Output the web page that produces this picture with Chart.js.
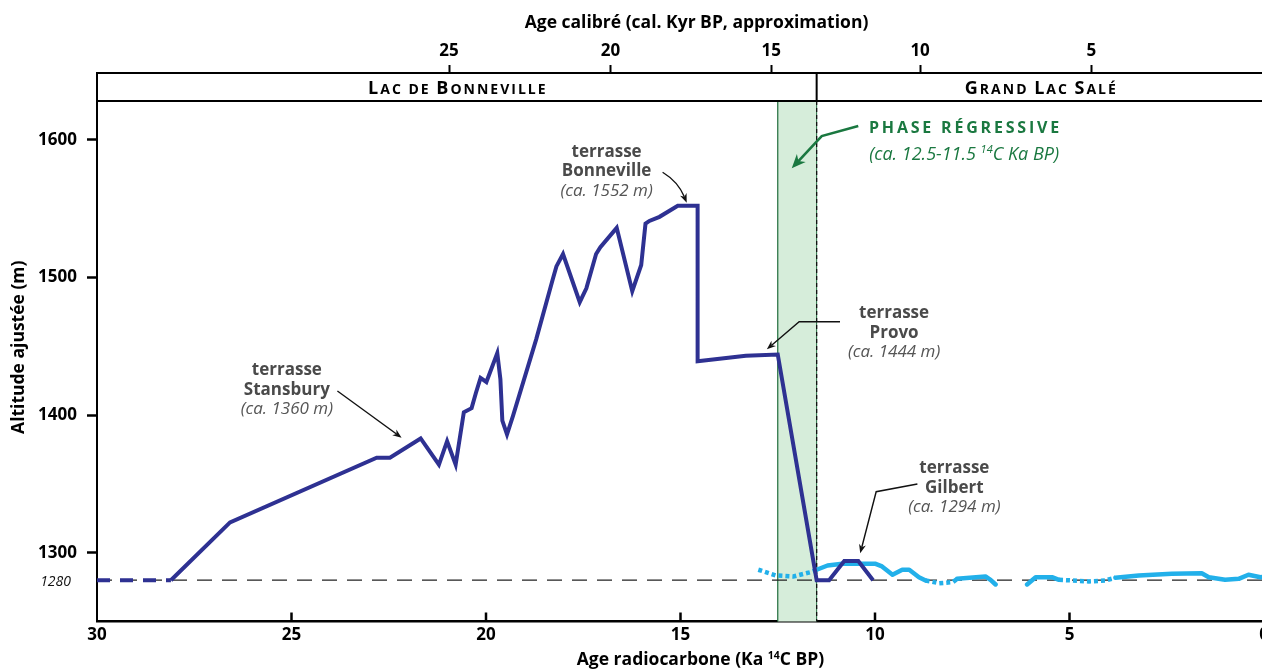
<!DOCTYPE html>
<html>
<head>
<meta charset="utf-8">
<script src="https://cdn.jsdelivr.net/npm/chart.js@4/dist/chart.umd.min.js"></script>
<style>
  html, body { margin: 0; padding: 0; background: #fff; overflow: hidden; }
  #wrap { position: relative; width: 1280px; height: 670px; }
</style>
</head>
<body>
<div id="wrap"><canvas id="chart"></canvas></div>
<script>
// ---- Axes ----
const radiocarbonTicks = [30, 25, 20, 15, 10, 5, 0];           // Ka 14C BP
const altitudeTicks = [1300, 1400, 1500, 1600];                 // m
const calibratedLabels = [25, 20, 15, 10, 5];                   // cal. Kyr BP
const calibratedAtRadiocarbon = [20.95, 16.8, 12.67, 8.84, 4.44];

// ---- Lake Bonneville / Gilbert hydrograph ----
const lakeAge = [28.1, 26.58, 22.81, 22.47, 21.68, 21.21, 21.0, 20.78, 20.57, 20.37, 20.26, 20.14,
  19.99, 19.71, 19.63, 19.58, 19.46, 19.31, 18.71, 18.28, 18.19, 18.02, 17.59, 17.42, 17.17, 17.06,
  16.64, 16.24, 16.01, 15.9, 15.8, 15.54, 15.07, 14.56, 14.56, 13.32, 12.5, 11.5, 11.18, 10.79, 10.43, 10.05];
const lakeAlt = [1280, 1322, 1369, 1369, 1383, 1364, 1381, 1364, 1402, 1405, 1416, 1427,
  1424, 1445, 1426, 1396, 1386, 1399, 1455, 1499, 1508, 1517, 1482, 1492, 1517, 1522,
  1536, 1490, 1509, 1539, 1541, 1544, 1552, 1552, 1439, 1443, 1444, 1280, 1280, 1294, 1294, 1280];

// Pre-lake low stand
const lowstandAge = [30, 28.1];
const lowstandAlt = [1280, 1280];

// ---- Great Salt Lake (solid = documented, dotted = inferred) ----
const saltLakeAge = [11.5, 11.22, 10.84, 10.0, 9.82, 9.55, 9.3, 9.12, 8.87, 8.7, null,
  7.89, 7.16, 7.03, 6.9, null,
  6.09, 5.87, 5.45, 5.27, null,
  3.82, 3.22, 2.37, 1.6, 1.42, 1.0, 0.65, 0.4, 0.09, 0];
const saltLakeAlt = [1287.6, 1290.7, 1292, 1292, 1290, 1284, 1287.6, 1287.6, 1282.2, 1279.8, null,
  1281, 1282.7, 1280.3, 1276.9, null,
  1276.9, 1282.2, 1282.2, 1280.3, null,
  1281.8, 1283.5, 1284.7, 1285.1, 1282.2, 1280.3, 1281, 1284, 1282.2, 1282.5];
const saltLakeInferredAge = [13.0, 12.55, 12.1, 11.65, 11.5, null, 8.7, 8.35, 8.0, 7.89, null, 5.27, 4.93, 4.5, 4.08, 3.82];
const saltLakeInferredAlt = [1287.6, 1283.5, 1282.7, 1285.9, 1287.6, null, 1279.8, 1277.8, 1278.6, 1281, null, 1280.3, 1279.8, 1279.1, 1279.8, 1281.8];

// Reference level and regressive phase
const datumAltitude = 1280;
const regressionPhase = [12.5, 11.5];

// ---- Styling ----
const FONT = "'Open Sans', 'Noto Sans', sans-serif";
const NAVY = '#2e3192';
const CYAN = '#22b0ea';
const GREEN = '#1a7840';
const GREY = '#4a4a4a';
const HEADER_H = 28;

// Terrace call-outs (positions in axis units)
const terraces = [
  { title: 'Stansbury', note: '(ca. 1360 m)', at: [25.12, 1429], arrow: [[23.82, 1417.5], [22.17, 1383.5]] },
  { title: 'Bonneville', note: '(ca. 1552 m)', at: [16.9, 1587.7], arrow: [[15.46, 1576.4], [15.06, 1569.5], [14.84, 1554.3]], curved: true },
  { title: 'Provo', note: '(ca. 1444 m)', at: [9.51, 1470.3], arrow: [[10.9, 1467.8], [11.95, 1467.8], [12.78, 1447.8]] },
  { title: 'Gilbert', note: '(ca. 1294 m)', at: [7.96, 1357.7], arrow: [[8.91, 1349.9], [9.97, 1344.3], [10.38, 1299.5]] }
];
const phaseNote = { at: [7.71, 1604.7], arrow: [[10.43, 1610.0], [11.37, 1602.7], [12.14, 1579.3]] };

const toPoints = (xs, ys) => xs.map((v, i) => ({ x: v, y: ys[i] }));

function strokeLine(ctx, x1, y1, x2, y2) {
  ctx.beginPath(); ctx.moveTo(x1, y1); ctx.lineTo(x2, y2); ctx.stroke();
}

// Text runs drawn centred on cx, optional letter spacing and vertical shift
function drawRuns(ctx, runs, cx, baseline, color) {
  ctx.fillStyle = color;
  ctx.textAlign = 'left';
  ctx.textBaseline = 'alphabetic';
  let total = 0;
  runs.forEach(r => {
    ctx.font = r.font;
    const sp = r.spacing || 0;
    r.chars = [...r.text].map(ch => ({ ch, w: ctx.measureText(ch).width + sp }));
    r.w = sp ? r.chars.reduce((s, c) => s + c.w, 0) : ctx.measureText(r.text).width;
    total += r.w;
  });
  if (runs.length && runs[runs.length - 1].spacing) total -= runs[runs.length - 1].spacing;
  let x = cx - total / 2;
  runs.forEach(r => {
    ctx.font = r.font;
    if (r.spacing) {
      r.chars.forEach(c => { ctx.fillText(c.ch, x, baseline + (r.dy || 0)); x += c.w; });
    } else {
      ctx.fillText(r.text, x, baseline + (r.dy || 0));
      x += r.w;
    }
  });
}

// Small capitals: upper-case letters large, lower-case letters as reduced capitals
function smallCapsRuns(text, big, small, spacing) {
  return [...text].map(ch => {
    const isUpper = ch !== ch.toLowerCase();
    const size = isUpper ? big : small;
    return { text: ch.toUpperCase(), font: `bold ${size}px ${FONT}`, spacing };
  });
}

function drawArrow(ctx, pts, color, width, headLen, headW, curved) {
  const n = pts.length;
  const [xa, ya] = pts[n - 2];
  const [xb, yb] = pts[n - 1];
  const ang = Math.atan2(yb - ya, xb - xa);
  const cos = Math.cos(ang), sin = Math.sin(ang);
  const endX = xb - headLen * 0.7 * cos, endY = yb - headLen * 0.7 * sin;
  ctx.strokeStyle = color;
  ctx.lineWidth = width;
  ctx.lineJoin = 'miter';
  ctx.beginPath();
  ctx.moveTo(pts[0][0], pts[0][1]);
  if (curved && n === 3) {
    ctx.quadraticCurveTo(pts[1][0], pts[1][1], endX, endY);
  } else {
    for (let i = 1; i < n - 1; i++) ctx.lineTo(pts[i][0], pts[i][1]);
    ctx.lineTo(endX, endY);
  }
  ctx.stroke();
  const bx = xb - headLen * cos, by = yb - headLen * sin;
  const ix = xb - headLen * 0.7 * cos, iy = yb - headLen * 0.7 * sin;
  ctx.fillStyle = color;
  ctx.beginPath();
  ctx.moveTo(xb, yb);
  ctx.lineTo(bx + (headW / 2) * sin, by - (headW / 2) * cos);
  ctx.lineTo(ix, iy);
  ctx.lineTo(bx - (headW / 2) * sin, by + (headW / 2) * cos);
  ctx.closePath();
  ctx.fill();
}

const decorations = {
  id: 'decorations',
  beforeDatasetsDraw(chart) {
    const { ctx, chartArea: a, scales: { x, y } } = chart;
    ctx.save();
    // regressive phase band
    const x1 = x.getPixelForValue(regressionPhase[0]);
    const x2 = x.getPixelForValue(regressionPhase[1]);
    const top = a.top + HEADER_H;
    ctx.fillStyle = '#d6edda';
    ctx.fillRect(x1, top, x2 - x1, a.bottom - top);
    ctx.strokeStyle = '#1f6b3b';
    ctx.lineWidth = 1.2;
    strokeLine(ctx, x1, top, x1, a.bottom);
    ctx.lineWidth = 1;
    strokeLine(ctx, x2, top, x2, a.bottom);
    ctx.setLineDash([4, 3]);
    ctx.strokeStyle = '#111';
    ctx.lineWidth = 1.3;
    strokeLine(ctx, x2, top, x2, a.bottom);
    // reference level
    const yd = y.getPixelForValue(datumAltitude);
    ctx.setLineDash([15, 10]);
    ctx.strokeStyle = '#222';
    ctx.lineWidth = 1.3;
    strokeLine(ctx, a.left, yd, a.right, yd);
    ctx.restore();
  },
  afterDraw(chart) {
    const { ctx, chartArea: a, scales: { x, y } } = chart;
    const px = v => x.getPixelForValue(v);
    const py = v => y.getPixelForValue(v);
    ctx.save();

    // header band
    const split = px(regressionPhase[1]);
    ctx.strokeStyle = '#000';
    ctx.lineWidth = 2;
    strokeLine(ctx, a.left, a.top + HEADER_H, a.right, a.top + HEADER_H);
    strokeLine(ctx, split, a.top, split, a.top + HEADER_H);
    const hb = a.top + 21;
    drawRuns(ctx, smallCapsRuns('Lac de Bonneville', 18, 14, 2), (a.left + split) / 2, hb, '#000');
    drawRuns(ctx, smallCapsRuns('Grand Lac Salé', 18, 14, 2), (split + a.right) / 2, hb, '#000');

    // inward ticks on the bottom axis
    ctx.lineWidth = 2.5;
    radiocarbonTicks.forEach(v => {
      if (v === 30) return;
      const xx = px(v);
      strokeLine(ctx, xx, a.bottom, xx, a.bottom - 9);
    });

    // reference level label
    ctx.font = `italic 14px ${FONT}`;
    ctx.fillStyle = '#111';
    ctx.textAlign = 'right';
    ctx.textBaseline = 'alphabetic';
    ctx.fillText(String(datumAltitude), a.left - 26, py(datumAltitude) + 5.5);

    // axis titles
    const titleFont = `bold 17.5px ${FONT}`;
    drawRuns(ctx, [{ text: 'Age calibré (cal. Kyr BP, approximation)', font: titleFont }],
      (a.left + a.right) / 2 + 16, 28, '#000');
    drawRuns(ctx, [
      { text: 'Age radiocarbone (Ka ', font: titleFont },
      { text: '14', font: `bold 10.5px ${FONT}`, dy: -6 },
      { text: 'C BP)', font: titleFont }
    ], (a.left + a.right) / 2 + 20, 665, '#000');
    ctx.save();
    ctx.translate(24, (a.top + a.bottom) / 2);
    ctx.rotate(-Math.PI / 2);
    drawRuns(ctx, [{ text: 'Altitude ajustée (m)', font: titleFont }], 0, 0, '#000');
    ctx.restore();

    // terrace call-outs
    terraces.forEach(t => {
      const cx = px(t.at[0]), by = py(t.at[1]);
      drawRuns(ctx, [{ text: 'terrasse', font: `bold 17px ${FONT}` }], cx, by, GREY);
      drawRuns(ctx, [{ text: t.title, font: `bold 17px ${FONT}` }], cx, by + 19.5, GREY);
      drawRuns(ctx, [{ text: t.note, font: `italic 17px ${FONT}` }], cx, by + 39, '#555');
      const pts = t.arrow.map(p => [px(p[0]), py(p[1])]);
      drawArrow(ctx, pts, '#111', 1.4, 9, 7, t.curved);
    });

    // regressive phase call-out
    const pcx = px(phaseNote.at[0]), pby = py(phaseNote.at[1]);
    drawRuns(ctx, [{ text: 'PHASE RÉGRESSIVE', font: `bold 16px ${FONT}`, spacing: 2.8 }], pcx, pby, GREEN);
    drawRuns(ctx, [
      { text: '(ca. 12.5-11.5 ', font: `italic 18px ${FONT}` },
      { text: '14', font: `italic 11px ${FONT}`, dy: -7 },
      { text: 'C Ka BP)', font: `italic 18px ${FONT}` }
    ], pcx, pby + 26.5, GREEN);
    drawArrow(ctx, phaseNote.arrow.map(p => [px(p[0]), py(p[1])]), GREEN, 2.6, 14, 12, false);

    ctx.restore();
  }
};

function build() {
  const ctx = document.getElementById('chart').getContext('2d');
  new Chart(ctx, {
    type: 'scatter',
    data: {
      datasets: [
        {
          data: toPoints(lakeAge, lakeAlt),
          showLine: true, borderColor: NAVY, borderWidth: 4, pointRadius: 0,
          tension: 0, borderJoinStyle: 'miter'
        },
        {
          data: toPoints(lowstandAge, lowstandAlt),
          showLine: true, borderColor: NAVY, borderWidth: 4, pointRadius: 0,
          borderDash: [13, 10]
        },
        {
          data: toPoints(saltLakeAge, saltLakeAlt),
          showLine: true, borderColor: CYAN, borderWidth: 4.5, pointRadius: 0,
          tension: 0, spanGaps: false, borderJoinStyle: 'round', borderCapStyle: 'round'
        },
        {
          data: toPoints(saltLakeInferredAge, saltLakeInferredAlt),
          showLine: true, borderColor: CYAN, borderWidth: 4.5, pointRadius: 0,
          tension: 0, spanGaps: false, borderDash: [4, 3]
        }
      ]
    },
    options: {
      responsive: true,
      maintainAspectRatio: false,
      animation: false,
      devicePixelRatio: 1,
      layout: { padding: { left: 0, right: 16, top: 0, bottom: 0 } },
      plugins: { legend: { display: false }, tooltip: { enabled: false } },
      scales: {
        x: {
          type: 'linear', position: 'bottom', min: 0, max: 30, reverse: true,
          afterBuildTicks: s => { s.ticks = radiocarbonTicks.map(v => ({ value: v })); },
          afterFit: s => { s.height = 48.5; },
          ticks: { callback: v => String(v), font: { family: FONT, weight: 'bold', size: 17 }, color: '#000', padding: 3, maxRotation: 0, autoSkip: false },
          grid: { display: true, drawOnChartArea: false, drawTicks: false, color: 'rgba(0,0,0,0)' },
          border: { display: true, color: '#000', width: 2.5 }
        },
        x2: {
          type: 'linear', position: 'top', min: 0, max: 30, reverse: true,
          afterBuildTicks: s => { s.ticks = calibratedAtRadiocarbon.map(v => ({ value: v })); },
          afterFit: s => { s.height = 73; },
          ticks: {
            callback: (v, i) => String(calibratedLabels[i]),
            font: { family: FONT, weight: 'bold', size: 17 }, color: '#000', padding: 4, maxRotation: 0, autoSkip: false
          },
          grid: { display: true, drawOnChartArea: false, drawTicks: true, tickLength: 8, tickWidth: 2, tickColor: '#000', color: 'rgba(0,0,0,0)' },
          border: { display: true, color: '#000', width: 2 }
        },
        y: {
          type: 'linear', position: 'left', min: 1250, max: 1648.5,
          afterBuildTicks: s => { s.ticks = altitudeTicks.map(v => ({ value: v })); },
          afterFit: s => { s.width = 97; },
          ticks: { callback: v => String(v), font: { family: FONT, weight: 'bold', size: 17 }, color: '#000', padding: 10 },
          grid: { display: true, drawOnChartArea: false, drawTicks: true, tickLength: 10, tickWidth: 2.5, tickColor: '#000', color: 'rgba(0,0,0,0)' },
          border: { display: true, color: '#000', width: 2 }
        }
      }
    },
    plugins: [decorations]
  });
}

const fontLoads = [
  `bold 17px ${FONT}`, `italic 17px ${FONT}`, `17px ${FONT}`
].map(f => document.fonts.load(f).catch(() => null));
Promise.all(fontLoads).then(build, build);
</script>
</body>
</html>
